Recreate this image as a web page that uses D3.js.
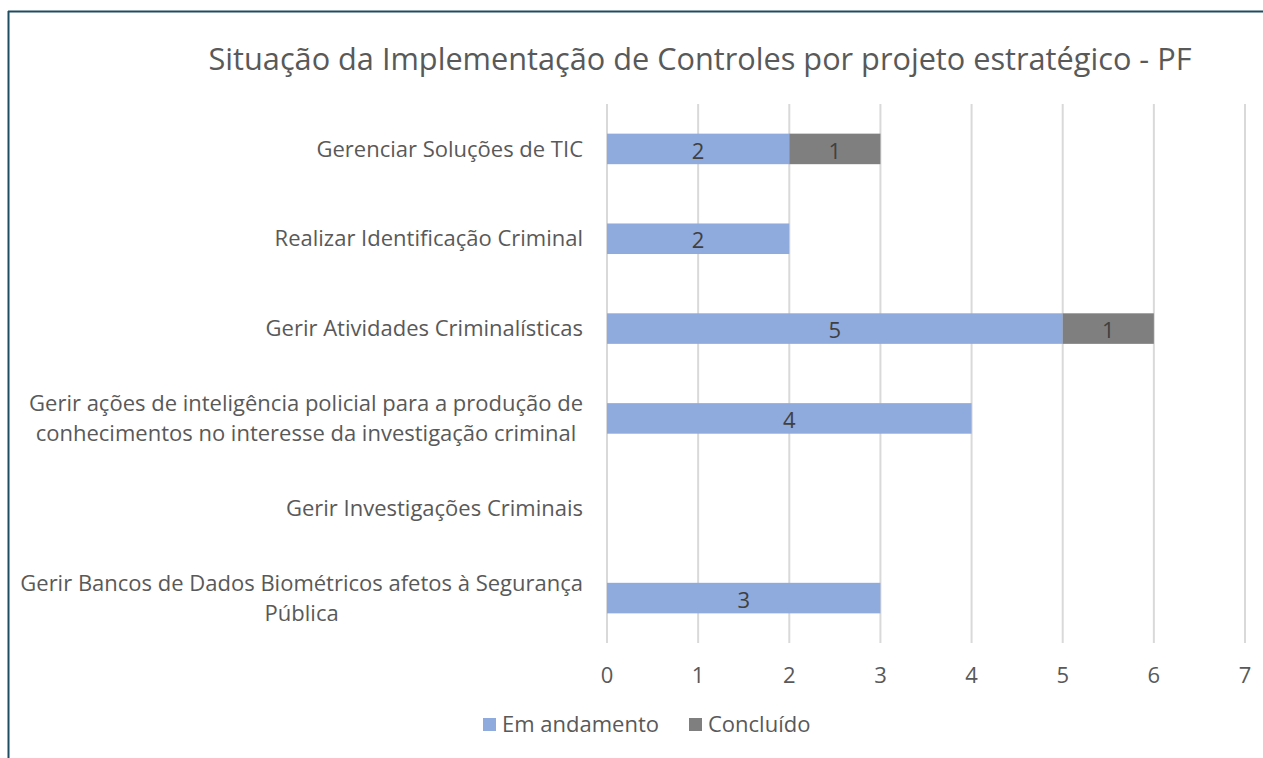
<!DOCTYPE html>
<html>
<head>
<meta charset="utf-8">
<script src="https://cdn.jsdelivr.net/npm/d3@7"></script>
<style>
  body { margin: 0; background: #fff; }
  svg { display: block; font-family: "Open Sans", sans-serif; }
</style>
</head>
<body>
<svg width="1263" height="758"></svg>
<script>
// chart data
const categories = [
  ['Gerenciar Soluções de TIC'],
  ['Realizar Identificação Criminal'],
  ['Gerir Atividades Criminalísticas'],
  ['Gerir ações de inteligência policial para a produção de', 'conhecimentos no interesse da investigação criminal'],
  ['Gerir Investigações Criminais'],
  ['Gerir Bancos de Dados Biométricos afetos à Segurança', 'Pública']
];
const emAndamento = [2, 2, 5, 4, 0, 3];
const concluido = [1, 0, 1, 0, 0, 0];
const xTicks = [0, 1, 2, 3, 4, 5, 6, 7];
const seriesNames = ['Em andamento', 'Concluído'];
const title = 'Situação da Implementação de Controles por projeto estratégico - PF';

const svg = d3.select('svg');
const colors = ['#8faadc', '#7f7f7f'];
const textColor = '#595959';
const fs = '22px';

// frame lines (top and left)
svg.append('line').attr('x1', 8).attr('x2', 1263).attr('y1', 11.5).attr('y2', 11.5)
  .attr('stroke', '#1e4c60').attr('stroke-width', 2);
svg.append('line').attr('x1', 8.5).attr('x2', 8.5).attr('y1', 11).attr('y2', 758)
  .attr('stroke', '#1e4c60').attr('stroke-width', 2);

const x = d3.scaleLinear().domain([0, 7]).range([607, 1245]);
const y = d3.scaleBand().domain(d3.range(categories.length)).range([104, 643])
  .paddingInner(0.66).paddingOuter(0.33);

svg.append('text')
  .attr('x', 700).attr('y', 70)
  .attr('text-anchor', 'middle')
  .style('font-size', '30.7px')
  .attr('fill', textColor)
  .text(title);

// grid
svg.append('g').selectAll('line').data(xTicks).enter().append('line')
  .attr('x1', d => x(d)).attr('x2', d => x(d))
  .attr('y1', 104).attr('y2', 643)
  .attr('stroke', '#d9d9d9').attr('stroke-width', 2);

// x tick labels
svg.append('g').selectAll('text').data(xTicks).enter().append('text')
  .attr('x', d => x(d)).attr('y', 675).attr('dy', '0.35em')
  .attr('text-anchor', 'middle')
  .style('font-size', fs)
  .attr('fill', textColor)
  .text(d => d);

// bars
const stacked = categories.map((c, i) => [
  { s: 0, x0: 0, x1: emAndamento[i], v: emAndamento[i], i },
  { s: 1, x0: emAndamento[i], x1: emAndamento[i] + concluido[i], v: concluido[i], i }
]).flat().filter(d => d.v > 0);

svg.append('g').selectAll('rect').data(stacked).enter().append('rect')
  .attr('x', d => x(d.x0))
  .attr('width', d => x(d.x1) - x(d.x0))
  .attr('y', d => y(d.i))
  .attr('height', y.bandwidth())
  .attr('fill', d => colors[d.s]);

svg.append('g').selectAll('text').data(stacked).enter().append('text')
  .attr('x', d => (x(d.x0) + x(d.x1)) / 2)
  .attr('y', d => y(d.i) + y.bandwidth() / 2 + 2)
  .attr('dy', '0.35em')
  .attr('text-anchor', 'middle')
  .style('font-size', fs)
  .attr('fill', '#404040')
  .text(d => d.v);

// category labels: block right aligned, lines centred
const labelRight = 583;
const lineH = 30;
categories.forEach((lines, i) => {
  const g = svg.append('g');
  const cy = y(i) + y.bandwidth() / 2;
  const texts = lines.map((l, k) => g.append('text')
    .attr('y', cy + (k - (lines.length - 1) / 2) * lineH)
    .attr('dy', '0.35em')
    .attr('text-anchor', 'middle')
    .style('font-size', fs)
    .attr('fill', textColor)
    .text(l));
  const w = d3.max(texts, t => t.node().getComputedTextLength());
  texts.forEach(t => t.attr('x', labelRight - w / 2));
});

// legend
const legend = svg.append('g');
let lx = 483;
seriesNames.forEach((name, i) => {
  legend.append('rect').attr('x', lx).attr('y', 718).attr('width', 13).attr('height', 13)
    .attr('fill', colors[i]);
  const t = legend.append('text').attr('x', lx + 19).attr('y', 724.5).attr('dy', '0.35em')
    .style('font-size', fs).attr('fill', textColor).text(name);
  lx += 19 + t.node().getComputedTextLength() + 30;
});
</script>
</body>
</html>
